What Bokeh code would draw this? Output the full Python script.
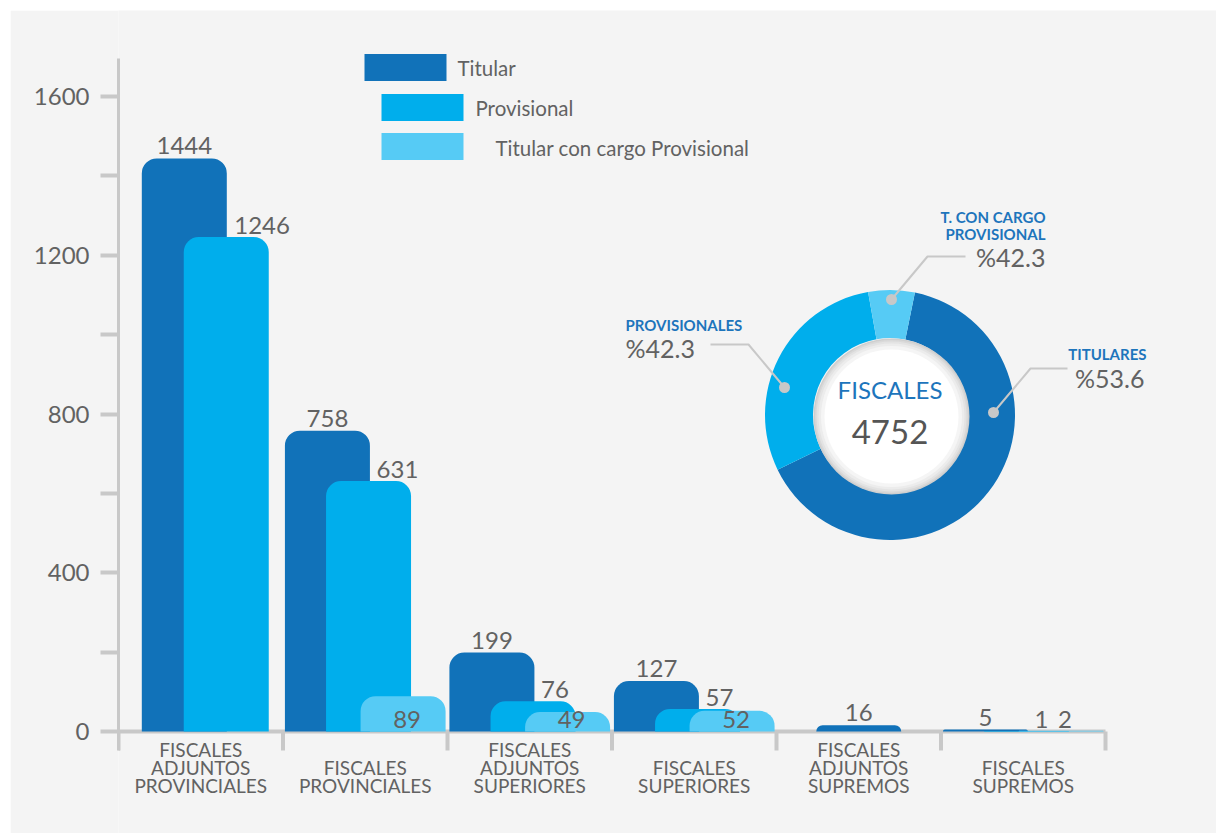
import math
from bokeh.plotting import figure
from bokeh.models import Range1d, FixedTicker, ColumnDataSource
from bokeh.core.properties import value
from bokeh.embed import file_html
from bokeh.resources import INLINE

# ---------------- data ----------------
categories = [
    "FISCALES\nADJUNTOS\nPROVINCIALES",
    "FISCALES\nPROVINCIALES",
    "FISCALES\nADJUNTOS\nSUPERIORES",
    "FISCALES\nSUPERIORES",
    "FISCALES\nADJUNTOS\nSUPREMOS",
    "FISCALES\nSUPREMOS",
]
series_names = ["Titular", "Provisional", "Titular con cargo Provisional"]
titular = [1444, 758, 199, 127, 16, 5]
provisional = [1246, 631, 76, 57, 0, 1]
titular_cargo_prov = [0, 89, 49, 52, 0, 2]

y_ticks = [0, 200, 400, 600, 800, 1000, 1200, 1400, 1600]
y_tick_labels = ["0", "", "400", "", "800", "", "1200", "", "1600"]

donut_title = "FISCALES"
donut_total = "4752"
donut_names = ["TITULARES", "PROVISIONALES", "T. CON CARGO\nPROVISIONAL"]
donut_pct_labels = ["%53.6", "%42.3", "%42.3"]
donut_shares = [64.6, 29.4, 6.0]   # arc shares as drawn in the picture

# ---------------- style ----------------
colors = ["#1172b9", "#00aeec", "#56cbf5"]
BG = "#f4f4f4"
AXIS = "#c8c8c8"
TXT = "#626262"
BLUE_TXT = "#1d75bc"
FONT = "Lato"

# page-pixel geometry helpers (figure placed at 10,10)
FIG_LEFT = 10
FRAME_LEFT = 118.0
SLOT = 164.5
Y0 = 731.0
YS = 635.0 / 1600.0


def X(px):
    return (px - FRAME_LEFT) / SLOT


def Y(py):
    return (Y0 - py) / YS


p = figure(width=1206, height=823, output_backend="svg", toolbar_location=None,
           x_range=Range1d(0, X(1216)), y_range=Range1d(Y(833), Y(10)),
           x_axis_location=None, min_border_left=int(FRAME_LEFT - FIG_LEFT),
           min_border_right=0, min_border_top=0, min_border_bottom=0)
p.margin = (10, 0, 0, 10)
p.background_fill_color = BG
p.border_fill_color = BG
p.outline_line_color = None
p.grid.visible = False

# y axis
ya = p.yaxis[0]
ya.ticker = FixedTicker(ticks=y_ticks)
ya.major_label_overrides = {t: l for t, l in zip(y_ticks, y_tick_labels)}
ya.bounds = (Y(750), Y(58))
ya.axis_line_color = AXIS
ya.axis_line_width = 3
ya.major_tick_line_color = AXIS
ya.major_tick_line_width = 4
ya.major_tick_out = 18
ya.major_tick_in = 0
ya.minor_tick_line_color = None
ya.major_label_standoff = 11
ya.major_label_text_font = FONT
ya.major_label_text_font_size = "24px"
ya.major_label_text_color = TXT

# baseline and separators
n = len(categories)
p.segment(x0=[0], y0=[0], x1=[n], y1=[0], line_color=AXIS, line_width=4)
p.segment(x0=list(range(n + 1)), y0=[0] * (n + 1), x1=list(range(n + 1)),
          y1=[Y(750)] * (n + 1), line_color=AXIS, line_width=4)

# bars
series = [titular, provisional, titular_cargo_prov]
offsets_by_count = {1: [0.0], 2: [-0.10, 0.155], 3: [-0.23, 0.02, 0.23]}
bar_w = 85.0 / SLOT
pos = {}
for i in range(n):
    present = [s for s in range(3) if series[s][i] > 0]
    offs = offsets_by_count[len(present)]
    for k, s in enumerate(present):
        pos[(s, i)] = i + 0.5 + offs[k]

for s in range(3):
    xs = [pos[(s, i)] for i in range(n) if (s, i) in pos]
    tops = [series[s][i] for i in range(n) if (s, i) in pos]
    src = ColumnDataSource(dict(x=xs, top=tops))
    p.vbar(x="x", top="top", bottom=0, width=bar_w, source=src,
           fill_color=colors[s], line_color=None, border_radius=(15, 15, 0, 0))

# value labels
for s in range(3):
    xs = [pos[(s, i)] for i in range(n) if (s, i) in pos]
    tops = [series[s][i] for i in range(n) if (s, i) in pos]
    labels = [str(series[s][i]) for i in range(n) if (s, i) in pos]
    if s == 0:
        p.text(x=xs, y=tops, text=labels, text_align="center", text_baseline="bottom",
               y_offset=-4, text_font=value(FONT), text_font_size="24px", text_color=TXT)
    elif s == 1:
        p.text(x=xs, y=tops, text=labels, text_align="left", text_baseline="bottom",
               x_offset=8, y_offset=-3, text_font=value(FONT), text_font_size="24px",
               text_color=TXT)
    else:
        p.text(x=xs, y=[0] * len(xs), text=labels, text_align="center",
               text_baseline="bottom", x_offset=4, y_offset=-4, text_font=value(FONT),
               text_font_size="24px", text_color=TXT)

# category labels
p.text(x=[i + 0.5 for i in range(n)], y=[Y(797)] * n, text=categories,
       text_align="center", text_baseline="bottom", text_font=value(FONT),
       text_font_size="19px", text_color=TXT, text_line_height=0.8)

# legend (drawn)
leg_sw = [(405, 67), (422, 107), (422, 146)]
leg_tx = [(457, 67), (475, 107), (495, 147)]
p.rect(x=[X(a) for a, b in leg_sw], y=[Y(b) for a, b in leg_sw], width=82, height=27,
       width_units="screen", height_units="screen", fill_color=colors, line_color=None)
p.text(x=[X(a) for a, b in leg_tx], y=[Y(b) for a, b in leg_tx], text=series_names,
       text_align="left", text_baseline="middle", text_font=value(FONT),
       text_font_size="20.5px", text_color=TXT)

# donut
cxp, cyp = 889.5, 414.5
cx, cy = X(cxp), Y(cyp)
start_cw = 11.5  # degrees clockwise from top where the first slice begins
tot = sum(donut_shares)
acc = start_cw
starts, ends = [], []
for sh in donut_shares:
    a0 = acc
    a1 = acc + sh / tot * 360.0
    starts.append(math.radians(90 - a0))
    ends.append(math.radians(90 - a1))
    acc = a1
p.annular_wedge(x=[cx] * 3, y=[cy] * 3, inner_radius=77, outer_radius=125,
                inner_radius_units="screen", outer_radius_units="screen",
                start_angle=starts, end_angle=ends, direction="clock",
                fill_color=colors, line_color=None)
for r, c in [(78, "#cfcfcf"), (76.5, "#d9d9d9"), (75, "#e3e3e3"), (73, "#ececec"),
             (70.5, "#f5f5f5"), (67, "#ffffff")]:
    p.circle(x=[cx + 1.5 / SLOT], y=[cy - 1.5 / YS], radius=r, radius_units="screen",
             fill_color=c, line_color=None)
p.text(x=[cx], y=[Y(389)], text=[donut_title], text_align="center", text_baseline="middle",
       text_font=value(FONT), text_font_size="24px", text_color=BLUE_TXT)
p.text(x=[cx], y=[Y(431)], text=[donut_total], text_align="center", text_baseline="middle",
       text_font=value(FONT), text_font_size="33px", text_color="#555555")

# donut call-outs
leaders = [
    [(993, 412), (1030, 368), (1067, 368)],
    [(784, 387), (748, 344), (710, 344)],
    [(891, 299), (927, 256), (965, 256)],
]
p.multi_line(xs=[[X(a) for a, b in L] for L in leaders],
             ys=[[Y(b) for a, b in L] for L in leaders], line_color=AXIS, line_width=2)
p.circle(x=[X(L[0][0]) for L in leaders], y=[Y(L[0][1]) for L in leaders], radius=5.5,
         radius_units="screen", fill_color=AXIS, line_color=None)

name_pos = [(1146, 353, "right"), (625, 324, "left"), (1045, 225, "right")]
pct_pos = [(1144, 377, "right"), (625, 347, "left"), (1045, 256, "right")]
for k in range(3):
    a, b, al = name_pos[k]
    p.text(x=[X(a)], y=[Y(b)], text=[donut_names[k]], text_align=al, text_baseline="middle",
           text_font=value(FONT), text_font_style="bold", text_font_size="15px",
           text_color=BLUE_TXT, text_line_height=0.9)
    a, b, al = pct_pos[k]
    p.text(x=[X(a)], y=[Y(b)], text=[donut_pct_labels[k]], text_align=al,
           text_baseline="middle", text_font=value(FONT), text_font_size="25px",
           text_color=TXT)

open("out.html", "w").write(file_html(p, INLINE))
